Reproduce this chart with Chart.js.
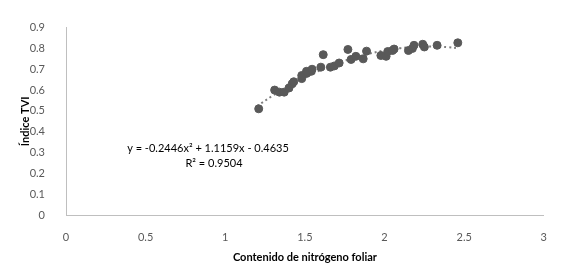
<!DOCTYPE html>
<html>
<head>
<meta charset="utf-8">
<script src="https://cdn.jsdelivr.net/npm/chart.js@4/dist/chart.umd.min.js"></script>
<style>
  html, body { margin: 0; padding: 0; background: #fff; }
  #wrap { width: 563px; height: 279px; }
</style>
</head>
<body>
<div id="wrap"><canvas id="tviChart" width="563" height="279"></canvas></div>
<script>
// Observed values (nitrogen content vs TVI index)
const nitrogen = [
  1.21, 1.31, 1.34, 1.37, 1.40, 1.42, 1.43, 1.48, 1.51, 1.54,
  1.48, 1.51, 1.545, 1.60, 1.615, 1.66, 1.685, 1.715, 1.77, 1.79,
  1.82, 1.866, 1.887, 1.977, 2.01, 2.02, 2.06, 2.05, 2.15, 2.175,
  2.185, 2.24, 2.25, 2.33, 2.46
];
const tvi = [
  0.51, 0.60, 0.59, 0.59, 0.61, 0.63, 0.64, 0.655, 0.68, 0.69,
  0.67, 0.69, 0.70, 0.71, 0.77, 0.71, 0.716, 0.73, 0.795, 0.747,
  0.762, 0.75, 0.787, 0.766, 0.762, 0.785, 0.797, 0.79, 0.79, 0.80,
  0.815, 0.82, 0.807, 0.815, 0.827
];

// Polynomial trendline
const trendX = [1.2, 1.3, 1.4, 1.5, 1.6, 1.7, 1.8, 1.9, 2.0, 2.1, 2.2, 2.3, 2.4, 2.46];
const trendY = [0.523, 0.574, 0.619, 0.660, 0.696, 0.727, 0.753, 0.774, 0.790, 0.801, 0.808, 0.809, 0.806, 0.801];

const xTicks = [0, 0.5, 1, 1.5, 2, 2.5, 3];
const yTicks = [0, 0.1, 0.2, 0.3, 0.4, 0.5, 0.6, 0.7, 0.8, 0.9];

const equationLines = ["y = -0.2446x\u00b2 + 1.1159x - 0.4635", "R\u00b2 = 0.9504"];

const FONT = "Lato, 'Open Sans', sans-serif";

// Draw the trendline equation label
const equationLabel = {
  id: "equationLabel",
  afterDatasetsDraw(chart) {
    const ctx = chart.ctx;
    ctx.save();
    ctx.fillStyle = "#000";
    ctx.font = "11px " + FONT;
    ctx.textAlign = "center";
    ctx.textBaseline = "middle";
    ctx.fillText(equationLines[0], 208, 148);
    ctx.fillText(equationLines[1], 214, 163);
    ctx.restore();
  },
};

new Chart(document.getElementById("tviChart"), {
  type: "scatter",
  data: {
    datasets: [
      {
        label: "Índice TVI",
        data: nitrogen.map((x, i) => ({ x: x, y: tvi[i] })),
        backgroundColor: "#595959",
        borderColor: "#595959",
        pointRadius: 4,
        order: 1,
      },
      {
        label: "Tendencia",
        type: "line",
        data: trendX.map((x, i) => ({ x: x, y: trendY[i] })),
        borderColor: "#7f7f7f",
        borderWidth: 2,
        borderDash: [2, 3],
        pointRadius: 0,
        tension: 0.4,
        fill: false,
        order: 2,
      },
    ],
  },
  options: {
    responsive: false,
    animation: false,
    layout: { padding: { top: 16, right: 18, left: 0, bottom: 0 } },
    plugins: {
      legend: { display: false },
      tooltip: { enabled: false },
    },
    scales: {
      x: {
        type: "linear",
        min: 0,
        max: 3,
        afterBuildTicks: (s) => { s.ticks = xTicks.map((v) => ({ value: v })); },
        afterFit: (s) => { s.height = 64; },
        grid: { display: false, drawTicks: false },
        border: { display: true, color: "#bfbfbf", width: 1 },
        ticks: {
          color: "#595959",
          font: { family: FONT, size: 11 },
          padding: 16,
          maxRotation: 0,
          callback: (v) => String(v),
        },
        title: {
          display: true,
          text: "Contenido de nitrógeno foliar",
          color: "#000",
          font: { family: FONT, size: 11, weight: "bold" },
          padding: { top: 0, bottom: 15 },
        },
      },
      y: {
        type: "linear",
        min: 0,
        max: 0.9,
        afterBuildTicks: (s) => { s.ticks = yTicks.map((v) => ({ value: v })); },
        afterFit: (s) => { s.width = 66; },
        grid: { display: false, drawTicks: false },
        border: { display: true, color: "#bfbfbf", width: 1 },
        ticks: {
          color: "#595959",
          font: { family: FONT, size: 11 },
          padding: 21,
          callback: (v) => String(Math.round(v * 10) / 10),
        },
        title: {
          display: true,
          text: "Índice TVI",
          color: "#000",
          font: { family: FONT, size: 11, weight: "bold" },
          padding: { top: 19, bottom: 0 },
        },
      },
    },
  },
  plugins: [equationLabel],
});
</script>
</body>
</html>
